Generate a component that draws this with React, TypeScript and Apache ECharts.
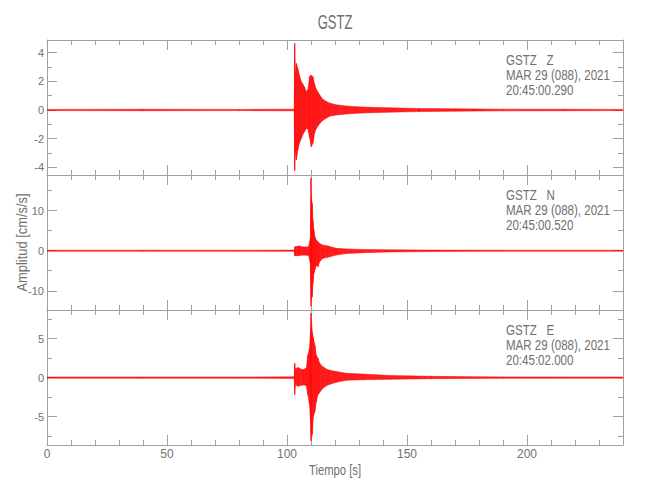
import React, { useEffect, useRef } from "react";
import * as echarts from "echarts";

// ---- Data ----
// Time axis (s)
const X_MIN = 0;
const X_MAX = 240;

// Component Z: envelope of the trace (cm/s/s)
const timesZ = [0, 40, 80, 103.0, 103.2, 103.5, 103.9, 104.5, 105.2, 105.9, 106.6, 107.3, 108.0, 108.7, 109.4, 110.1, 110.8, 111.5, 112.2, 112.9, 113.6, 114.9, 116.3, 117.7, 120.5, 124.7, 128.8, 134.4, 142.7, 155, 170, 190, 215, 240];
const upperZ = [0.04, 0.05, 0.04, 0.06, 4.65, 2.4, 3.25, 2.9, 2.4, 2.0, 1.8, 1.6, 1.3, 1.4, 2.32, 2.44, 2.32, 1.8, 1.45, 1.25, 1.05, 0.75, 0.6, 0.48, 0.36, 0.28, 0.23, 0.19, 0.15, 0.11, 0.08, 0.06, 0.05, 0.04];
const lowerZ = [-0.04, -0.05, -0.04, -0.06, -4.23, -2.7, -3.48, -2.8, -2.3, -2.0, -1.7, -1.5, -1.3, -1.3, -1.9, -2.56, -2.32, -1.6, -1.3, -1.1, -0.95, -0.72, -0.58, -0.44, -0.35, -0.28, -0.23, -0.19, -0.15, -0.11, -0.08, -0.06, -0.05, -0.04];

// Component N
const timesN = [0, 40, 80, 103.0, 103.3, 105, 107, 109.0, 109.7, 110.0, 110.2, 110.5, 110.8, 111.2, 111.6, 112.2, 112.9, 113.6, 114.9, 117.0, 120.5, 124.7, 131.6, 142.7, 160, 190, 240];
const upperN = [0.12, 0.14, 0.12, 0.15, 1.0, 1.2, 0.9, 1.0, 3.0, 18.1, 13, 11.8, 7.7, 5.2, 3.5, 2.7, 2.25, 1.8, 1.4, 1.2, 0.6, 0.45, 0.3, 0.22, 0.16, 0.13, 0.12];
const lowerN = [-0.12, -0.14, -0.12, -0.15, -1.3, -1.2, -1.1, -1.2, -3.0, -13.8, -12, -11.5, -8.2, -5.7, -4.8, -3.6, -4.0, -2.75, -1.9, -1.65, -1.1, -0.7, -0.5, -0.3, -0.2, -0.13, -0.12];

// Component E
const timesE = [0, 40, 80, 103.0, 103.2, 103.5, 104.5, 106.6, 108.0, 108.7, 109.4, 109.8, 110.0, 110.5, 111.0, 111.6, 112.2, 112.9, 113.6, 114.9, 117.0, 120.5, 124.7, 131.6, 142.7, 160, 190, 240];
const upperE = [0.07, 0.08, 0.07, 0.1, 1.85, 1.1, 1.3, 1.0, 1.2, 2.9, 3.8, 6.0, 8.25, 5.9, 5.05, 4.2, 2.9, 2.5, 1.85, 1.4, 1.0, 0.77, 0.56, 0.45, 0.28, 0.16, 0.09, 0.07];
const lowerE = [-0.07, -0.08, -0.07, -0.1, -2.2, -0.9, -1.1, -0.94, -1.0, -2.2, -3.5, -5.5, -8.1, -7.3, -5.0, -4.35, -3.1, -2.2, -1.9, -1.36, -0.94, -0.6, -0.34, -0.28, -0.22, -0.14, -0.09, -0.07];

// Axis ranges per panel
const yMins = [-4.53, -14.8, -8.65];
const yMaxs = [4.88, 18.9, 8.68];
const ySplits = [5, 3, 3];

// Texts
const titleText = "GSTZ";
const stationLabels = ["GSTZ   Z", "GSTZ   N", "GSTZ   E"];
const dateLabel = "MAR 29 (088), 2021";
const startTimes = ["20:45:00.290", "20:45:00.520", "20:45:02.000"];
const yName = "Amplitud [cm/s/s]";
const xName = "Tiempo [s]";

const FONT = "'Liberation Sans', Arial, sans-serif";
const AXIS_COLOR = "#a0a0a0";
const TEXT_COLOR = "#707070";
const TRACE = "#ff0000";

const panels = [
  { t: timesZ, hi: upperZ, lo: lowerZ },
  { t: timesN, hi: upperN, lo: lowerN },
  { t: timesE, hi: upperE, lo: lowerE },
];

const GRID_LEFT = 47;
const GRID_RIGHT = 27;
const GRID_TOP = 40;
const PANEL_H = 135;

export default function App() {
  const ref = useRef<HTMLDivElement>(null);

  useEffect(() => {
    if (!ref.current) return;
    const chart = echarts.init(ref.current, null, { renderer: "svg" });

    const grids: any[] = [];
    const xAxes: any[] = [];
    const yAxes: any[] = [];
    const series: any[] = [];

    const lineStyle = { color: AXIS_COLOR, width: 1 };

    panels.forEach((p, i) => {
      grids.push({
        left: GRID_LEFT,
        right: GRID_RIGHT,
        top: GRID_TOP + PANEL_H * i,
        height: PANEL_H,
        containLabel: false,
      });
      ["bottom", "top"].forEach((pos) => {
        xAxes.push({
          type: "value",
          gridIndex: i,
          position: pos,
          min: X_MIN,
          max: X_MAX,
          splitNumber: 5,
          axisLine: { show: true, onZero: false, lineStyle },
          axisTick: { show: true, inside: true, length: 10, lineStyle },
          minorTick: { show: true, splitNumber: 5, length: 5, lineStyle },
          splitLine: { show: false },
          minorSplitLine: { show: false },
          axisLabel: {
            show: pos === "bottom" && i === panels.length - 1,
            showMinLabel: true,
            showMaxLabel: false,
            margin: 3,
            color: TEXT_COLOR,
            fontFamily: FONT,
            fontSize: 12,
          },
        });
      });
      ["left", "right"].forEach((pos) => {
        yAxes.push({
          type: "value",
          gridIndex: i,
          position: pos,
          min: yMins[i],
          max: yMaxs[i],
          splitNumber: ySplits[i],
          axisLine: { show: true, onZero: false, lineStyle },
          axisTick: { show: true, inside: true, length: 10, lineStyle },
          minorTick: { show: true, splitNumber: 2, length: 5, lineStyle },
          splitLine: { show: false },
          minorSplitLine: { show: false },
          axisLabel: {
            show: pos === "left",
            showMinLabel: false,
            showMaxLabel: false,
            margin: 3,
            color: TEXT_COLOR,
            fontFamily: FONT,
            fontSize: 11,
          },
        });
      });

      const data = p.t.map((t, k) => [t, p.hi[k], p.lo[k]]);
      series.push({
        type: "custom",
        xAxisIndex: i * 2,
        yAxisIndex: i * 2,
        clip: true,
        silent: true,
        encode: { x: 0, y: [1, 2] },
        data,
        renderItem: (params: any, api: any) => {
          const k = params.dataIndex;
          if (k >= p.t.length - 1) return null;
          const a = api.coord([p.t[k], p.hi[k]]);
          const b = api.coord([p.t[k + 1], p.hi[k + 1]]);
          const c = api.coord([p.t[k + 1], p.lo[k + 1]]);
          const d = api.coord([p.t[k], p.lo[k]]);
          return {
            type: "polygon",
            shape: { points: [a, b, c, d] },
            style: { fill: "rgba(255,0,0,0.88)", stroke: TRACE, lineWidth: 0.5 },
          };
        },
      });
    });

    const cx = GRID_LEFT + (650 - GRID_LEFT - GRID_RIGHT) / 2;
    const graphic: any[] = [
      {
        type: "text",
        x: cx,
        y: 22,
        scaleX: 0.62,
        style: {
          text: titleText,
          fill: TEXT_COLOR,
          font: `21px ${FONT}`,
          textAlign: "center",
          textVerticalAlign: "middle",
        },
      },
      {
        type: "text",
        x: 22,
        y: GRID_TOP + (PANEL_H * 3) / 2,
        rotation: Math.PI / 2,
        scaleX: 0.92,
        style: {
          text: yName,
          fill: TEXT_COLOR,
          font: `14px ${FONT}`,
          textAlign: "center",
          textVerticalAlign: "middle",
        },
      },
      {
        type: "text",
        x: cx,
        y: 470,
        scaleX: 0.75,
        style: {
          text: xName,
          fill: TEXT_COLOR,
          font: `15px ${FONT}`,
          textAlign: "center",
          textVerticalAlign: "middle",
        },
      },
    ];
    stationLabels.forEach((s, i) => {
      const lines = [s, dateLabel, startTimes[i]];
      lines.forEach((txt, j) => {
        graphic.push({
          type: "text",
          x: 506,
          y: 60 + 15 * j + PANEL_H * i,
          scaleX: 0.77,
          style: {
            text: txt,
            fill: TEXT_COLOR,
            font: `15px ${FONT}`,
            textAlign: "left",
            textVerticalAlign: "middle",
          },
        });
      });
    });

    chart.setOption({
      animation: false,
      backgroundColor: "#ffffff",
      grid: grids,
      xAxis: xAxes,
      yAxis: yAxes,
      series,
      graphic,
    });

    return () => chart.dispose();
  }, []);

  return (
    <div
      ref={ref}
      style={{ position: "absolute", left: 0, top: 0, width: 650, height: 500 }}
    />
  );
}
